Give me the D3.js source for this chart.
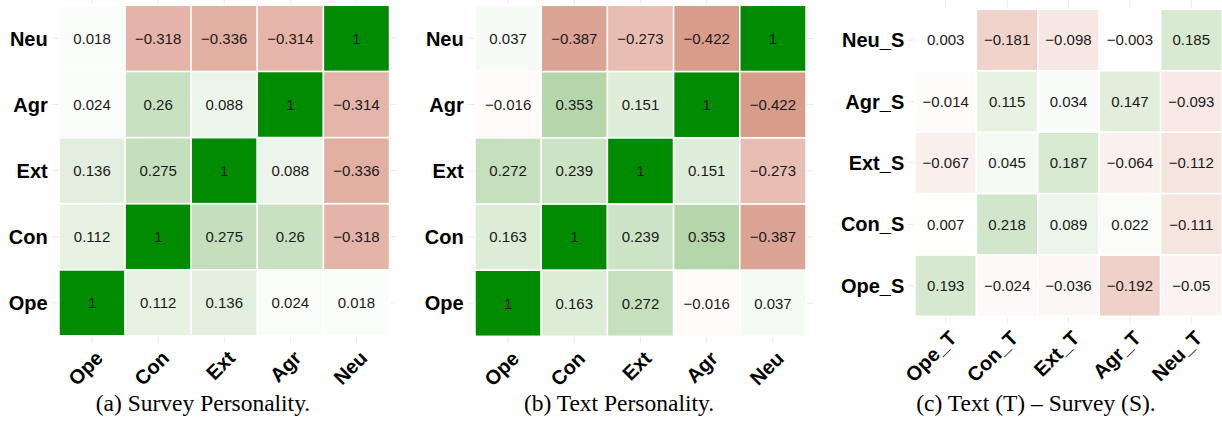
<!DOCTYPE html>
<html lang="en">
<head>
    <meta charset="UTF-8" />
    <script src="https://cdn.jsdelivr.net/npm/d3@7"></script>
    <style>
        body { margin: 0; background: #fff; }
        svg { display: block; }
    </style>
</head>
<body>
<script>
    // traits, bottom to top on y, left to right on x
    var traits = ["Ope", "Con", "Ext", "Agr", "Neu"];
    var traitsT = ["Ope_T", "Con_T", "Ext_T", "Agr_T", "Neu_T"];
    var traitsS = ["Ope_S", "Con_S", "Ext_S", "Agr_S", "Neu_S"];

    // rows follow the y order (Ope first), columns follow x order
    var surveyVals = [
        [1, 0.112, 0.136, 0.024, 0.018],
        [0.112, 1, 0.275, 0.26, -0.318],
        [0.136, 0.275, 1, 0.088, -0.336],
        [0.024, 0.26, 0.088, 1, -0.314],
        [0.018, -0.318, -0.336, -0.314, 1]
    ];
    var textVals = [
        [1, 0.163, 0.272, -0.016, 0.037],
        [0.163, 1, 0.239, 0.353, -0.387],
        [0.272, 0.239, 1, 0.151, -0.273],
        [-0.016, 0.353, 0.151, 1, -0.422],
        [0.037, -0.387, -0.273, -0.422, 1]
    ];
    var crossVals = [
        [0.193, -0.024, -0.036, -0.192, -0.05],
        [0.007, 0.218, 0.089, 0.022, -0.111],
        [-0.067, 0.045, 0.187, -0.064, -0.112],
        [-0.014, 0.115, 0.034, 0.147, -0.093],
        [0.003, -0.181, -0.098, -0.003, 0.185]
    ];
    var captions = ["(a) Survey Personality.", "(b) Text Personality.", "(c) Text (T) \u2013 Survey (S)."];

    const svg = d3.select("body").append("svg")
        .attr("width", 1222)
        .attr("height", 429);

    // ggplot style gradient2: darkred - white - green4
    var neg = d3.interpolateLab("#ffffff", "#8b0000");
    var pos = d3.interpolateLab("#ffffff", "#008b00");
    function fill(v) { return v < 0 ? neg(-v) : pos(v); }
    function fmt(v) { return String(v).replace("-", "\u2212"); }

    var panels = [
        { xs: traits, ys: traits, vals: surveyVals, left: 59, top: 5.3, cell: 66.1, cap: 203 },
        { xs: traits, ys: traits, vals: textVals, left: 475, top: 5.3, cell: 66.2, cap: 619 },
        { xs: traitsT, ys: traitsS, vals: crossVals, left: 915, top: 9.3, cell: 61.4, cap: 1036 }
    ];

    panels.forEach(function (p, pi) {
        var g = svg.append("g");
        var w = p.cell * 5;
        var x = d3.scaleBand().domain(p.xs).range([p.left, p.left + w]);
        var y = d3.scaleBand().domain(p.ys.slice().reverse()).range([p.top, p.top + w]);
        var ex = p.cell * 0.11;

        // faint grid lines, only seen around the tiles
        g.selectAll("line.vg").data(p.xs).enter().append("line")
            .attr("x1", d => x(d) + x.bandwidth() / 2)
            .attr("x2", d => x(d) + x.bandwidth() / 2)
            .attr("y1", p.top - ex - 20)
            .attr("y2", p.top + w + ex)
            .attr("stroke", "#ebebeb").attr("stroke-width", 1);
        g.selectAll("line.hg").data(p.ys).enter().append("line")
            .attr("y1", d => y(d) + y.bandwidth() / 2)
            .attr("y2", d => y(d) + y.bandwidth() / 2)
            .attr("x1", p.left - ex)
            .attr("x2", p.left + w + ex)
            .attr("stroke", "#ebebeb").attr("stroke-width", 1);

        var cells = [];
        p.vals.forEach(function (row, i) {
            row.forEach(function (v, j) {
                cells.push({ r: p.ys[i], c: p.xs[j], v: v });
            });
        });

        g.selectAll("rect").data(cells).enter().append("rect")
            .attr("x", d => x(d.c))
            .attr("y", d => y(d.r))
            .attr("width", x.bandwidth())
            .attr("height", y.bandwidth())
            .attr("fill", d => fill(d.v))
            .attr("stroke", "#fff")
            .attr("stroke-width", 1.5);

        g.selectAll("text.val").data(cells).enter().append("text")
            .attr("x", d => x(d.c) + x.bandwidth() / 2)
            .attr("y", d => y(d.r) + y.bandwidth() / 2)
            .attr("dy", "0.36em")
            .attr("text-anchor", "middle")
            .attr("font-family", "Liberation Sans, Arial, sans-serif")
            .attr("font-size", 15)
            .attr("fill", "#1a1a1a")
            .text(d => fmt(d.v));

        // y labels
        g.selectAll("text.yl").data(p.ys).enter().append("text")
            .attr("x", p.left - ex - 4)
            .attr("y", d => y(d) + y.bandwidth() / 2)
            .attr("dy", "0.36em")
            .attr("text-anchor", "end")
            .attr("font-family", "Liberation Sans, Arial, sans-serif")
            .attr("font-weight", "bold")
            .attr("font-size", 20)
            .attr("fill", "#000")
            .text(d => d);

        // x labels, rotated
        var ly = p.top + w + ex + 6;
        g.selectAll("text.xl").data(p.xs).enter().append("text")
            .attr("transform", d => `translate(${x(d) + x.bandwidth() / 2 + 2},${ly}) rotate(-45)`)
            .attr("dy", "0.72em")
            .attr("text-anchor", "end")
            .attr("font-family", "Liberation Sans, Arial, sans-serif")
            .attr("font-weight", "bold")
            .attr("font-size", 20)
            .attr("fill", "#000")
            .text(d => d);

        svg.append("text")
            .attr("x", p.cap)
            .attr("y", 411)
            .attr("text-anchor", "middle")
            .attr("font-family", "Liberation Serif, Times New Roman, serif")
            .attr("font-size", 23.5)
            .attr("fill", "#000")
            .text(captions[pi]);
    });
</script>
</body>
</html>
